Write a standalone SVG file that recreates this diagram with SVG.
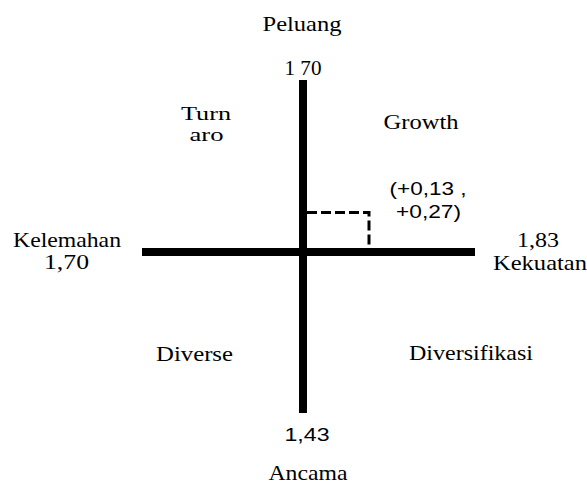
<svg xmlns="http://www.w3.org/2000/svg" width="587" height="485" viewBox="0 0 587 485">
<style>
.t{font-family:'Liberation Serif','Times New Roman',serif;font-size:21px;fill:#000;text-anchor:middle}
.sm{font-size:19px}
.s{font-family:'Liberation Sans',Arial,sans-serif;font-size:18px;fill:#000;text-anchor:middle}
.ax{stroke:#000;stroke-width:8;fill:none}
.d{stroke:#000;stroke-width:3;stroke-dasharray:10,4;fill:none}
</style>
<rect width="587" height="485" fill="#fff"/>
<g id="connectors">
<line class="ax" x1="303" y1="80" x2="303" y2="413"/>
<line class="ax" x1="142" y1="252" x2="475" y2="252"/>
<path class="d" d="M307 212.5 H369 V248"/>
</g>
<g id="peluang"><text class="t" x="302" y="31" textLength="79" lengthAdjust="spacingAndGlyphs">Peluang</text><text class="t" x="303" y="75" textLength="37" lengthAdjust="spacingAndGlyphs">1 70</text></g>
<g id="turnaround"><text class="t sm" x="206" y="120" textLength="50" lengthAdjust="spacingAndGlyphs">Turn</text><text class="t sm" x="206.5" y="141" textLength="34" lengthAdjust="spacingAndGlyphs">aro</text></g>
<g id="growth"><text class="t" x="421" y="129" textLength="75" lengthAdjust="spacingAndGlyphs">Growth</text></g>
<g id="point"><text class="s" x="428" y="195" textLength="77" lengthAdjust="spacingAndGlyphs">(+0,13 ,</text><text class="s" x="428.5" y="218" textLength="65" lengthAdjust="spacingAndGlyphs">+0,27)</text></g>
<g id="kelemahan"><text class="t" x="67" y="247" textLength="108" lengthAdjust="spacingAndGlyphs">Kelemahan</text><text class="t" x="66.5" y="269" textLength="45" lengthAdjust="spacingAndGlyphs">1,70</text></g>
<g id="kekuatan"><text class="t" x="538" y="247" textLength="42" lengthAdjust="spacingAndGlyphs">1,83</text><text class="t" x="540" y="270" textLength="94" lengthAdjust="spacingAndGlyphs">Kekuatan</text></g>
<g id="diverse"><text class="t" x="194.5" y="361" textLength="77" lengthAdjust="spacingAndGlyphs">Diverse</text></g>
<g id="diversifikasi"><text class="t" x="471" y="360" textLength="124" lengthAdjust="spacingAndGlyphs">Diversifikasi</text></g>
<g id="ancaman"><text class="s" x="307" y="441" textLength="45" lengthAdjust="spacingAndGlyphs">1,43</text><text class="t" x="308" y="480" textLength="79" lengthAdjust="spacingAndGlyphs">Ancama</text></g>
</svg>
